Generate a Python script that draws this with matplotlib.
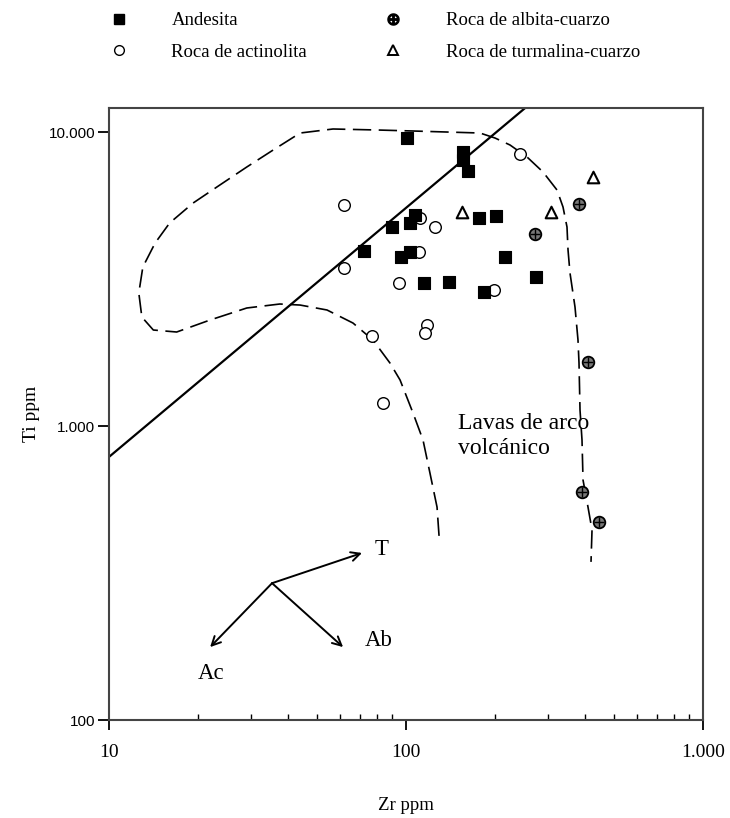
import numpy as np
import matplotlib
matplotlib.use("Agg")
import matplotlib.pyplot as plt
from matplotlib.lines import Line2D
from matplotlib.ticker import FixedLocator, NullFormatter

# Zr / Ti (ppm)
andesita_zr = [101, 156, 156, 162, 72, 90, 103, 107, 176, 201, 96, 103, 215, 115, 140, 183, 274]
andesita_ti = [9540, 8550, 8030, 7370, 3940, 4750, 4900, 5220, 5100, 5180, 3760, 3910, 3760, 3060, 3090, 2860, 3210]

actinolita_zr = [62, 62, 111.5, 125, 242, 110.6, 94.7, 198, 117.7, 115.9, 76.8, 83.7]
actinolita_ti = [5650, 3450, 5100, 4750, 8420, 3910, 3060, 2900, 2210, 2070, 2020, 1200]

albita_zr = [382, 272, 410, 391, 446]
albita_ti = [5690, 4500, 1650, 596, 472]

turmalina_zr = [154, 308, 426]
turmalina_ti = [5340, 5340, 7030]

# discrimination line
line_zr = [10, 260]
line_ti = [785, 12400]

# "Lavas de arco volcanico" field boundary (open curve)
field_zr = [129.2, 127.2, 120.4, 114.1, 105.6, 95.5, 88.3, 77.4, 66.3, 54.2, 44.0, 37.6,
            29.1, 21.9, 16.9, 14.1, 12.9, 12.6, 13.0, 14.3, 16.0, 19.2, 23.6, 29.1,
            35.7, 44.0, 56.8, 79.9, 105.6, 137.4, 177.5, 199.4, 224.0, 255.6, 289.3,
            322.4, 337.8, 348.4, 351.2, 356.6, 370.7, 379.4, 382.4, 385.4, 391.4,
            394.5, 410.0, 423.0, 419.7]
field_ti = [423, 530, 692, 896, 1107, 1434, 1638, 1961, 2240, 2481, 2579, 2600,
            2520, 2294, 2088, 2121, 2348, 2835, 3474, 4193, 4903, 5735, 6600, 7603,
            8685, 9922, 10240, 10160, 10080, 10000, 9922, 9541, 9033, 8222, 7311,
            6350, 5558, 4752, 3968, 3314, 2540, 1961, 1638, 1133, 896,
            655, 530, 443, 345]

# alteration vectors
vec_origin = (35.4, 292)
vec_tips = {"T": (71.1, 370), "Ac": (21.9, 177), "Ab": (61.4, 177)}
vec_labels = {"T": (83.0, 379), "Ac": (22.0, 144), "Ab": (81.1, 187)}

serif = "Liberation Serif"
sans = "Liberation Sans"

fig = plt.figure(figsize=(7.3, 8.18), dpi=100)
ax = fig.add_axes([109 / 730, 1 - 720 / 818, (703 - 109) / 730, (720 - 108) / 818])
ax.set_xscale("log")
ax.set_yscale("log")
ax.set_xlim(10, 1000)
ax.set_ylim(100, 12070)

ax.plot(field_zr, field_ti, color="black", lw=1.2, dashes=(11, 4.5), zorder=2)
ax.plot(line_zr, line_ti, color="black", lw=1.6, zorder=2)

ax.scatter(actinolita_zr, actinolita_ti, marker="o", s=70, facecolor="white",
           edgecolor="black", linewidth=1.0, zorder=3)
ax.scatter(andesita_zr, andesita_ti, marker="s", s=70, facecolor="black",
           edgecolor="black", linewidth=0.8, zorder=4)
ax.scatter(albita_zr, albita_ti, marker="o", s=70, facecolor="#777777",
           edgecolor="black", linewidth=1.3, zorder=4)
ax.scatter(albita_zr, albita_ti, marker="+", s=45, color="black", linewidth=1.0, zorder=5)
ax.scatter(turmalina_zr, turmalina_ti, marker="^", s=70, facecolor="white",
           edgecolor="black", linewidth=1.5, zorder=4)

for key, tip in vec_tips.items():
    ax.annotate("", xy=tip, xytext=vec_origin,
                arrowprops=dict(arrowstyle="->", color="black", lw=1.4,
                                mutation_scale=16, shrinkA=0, shrinkB=0))
    ax.text(*vec_labels[key], key, family=serif, fontsize=16.5, ha="center", va="center")

ax.text(150, 925, "Lavas de arco\nvolcánico", family=serif, fontsize=17,
        ha="left", va="center", linespacing=1.3)

# axes styling
for sp in ax.spines.values():
    sp.set_color("#444444")
    sp.set_linewidth(1.5)

ax.xaxis.set_major_locator(FixedLocator([10, 100, 1000]))
ax.set_xticklabels(["10", "100", "1.000"], family=serif, fontsize=14)
ax.xaxis.set_minor_locator(FixedLocator([v * d for d in (10, 100) for v in range(2, 10)]))
ax.xaxis.set_minor_formatter(NullFormatter())
ax.tick_params(axis="x", which="major", direction="out", length=7, width=1.3, pad=10)
ax.tick_params(axis="x", which="minor", direction="in", length=4, width=1.0)

ax.yaxis.set_major_locator(FixedLocator([100, 1000, 10000]))
ax.set_yticklabels(["100", "1.000", "10.000"], family=sans, fontsize=11)
ax.yaxis.set_minor_locator(FixedLocator([]))
ax.tick_params(axis="y", which="major", direction="out", length=8, width=1.3, pad=2)

ax.set_xlabel("Zr ppm", family=serif, fontsize=13.5, labelpad=26)
ax.set_ylabel("Ti ppm", family=serif, fontsize=14, labelpad=6)

handles = [
    Line2D([], [], ls="none", marker="s", ms=7, mfc="black", mec="black"),
    Line2D([], [], ls="none", marker="o", ms=7, mfc="white", mec="black"),
    Line2D([], [], ls="none", marker="$\\oplus$", ms=8, color="black"),
    Line2D([], [], ls="none", marker="^", ms=7, mfc="white", mec="black", mew=1.4),
]
labels = ["Andesita", "Roca de actinolita", "Roca de albita-cuarzo", "Roca de turmalina-cuarzo"]
fig.legend(handles, labels, loc="upper left", bbox_to_anchor=(0.127, 1.006), ncol=2,
           frameon=False, prop={"family": serif, "size": 13.5}, handlelength=1.0,
           handletextpad=2.3, columnspacing=4.1, labelspacing=0.78)

fig.savefig("out.png", dpi=100)
